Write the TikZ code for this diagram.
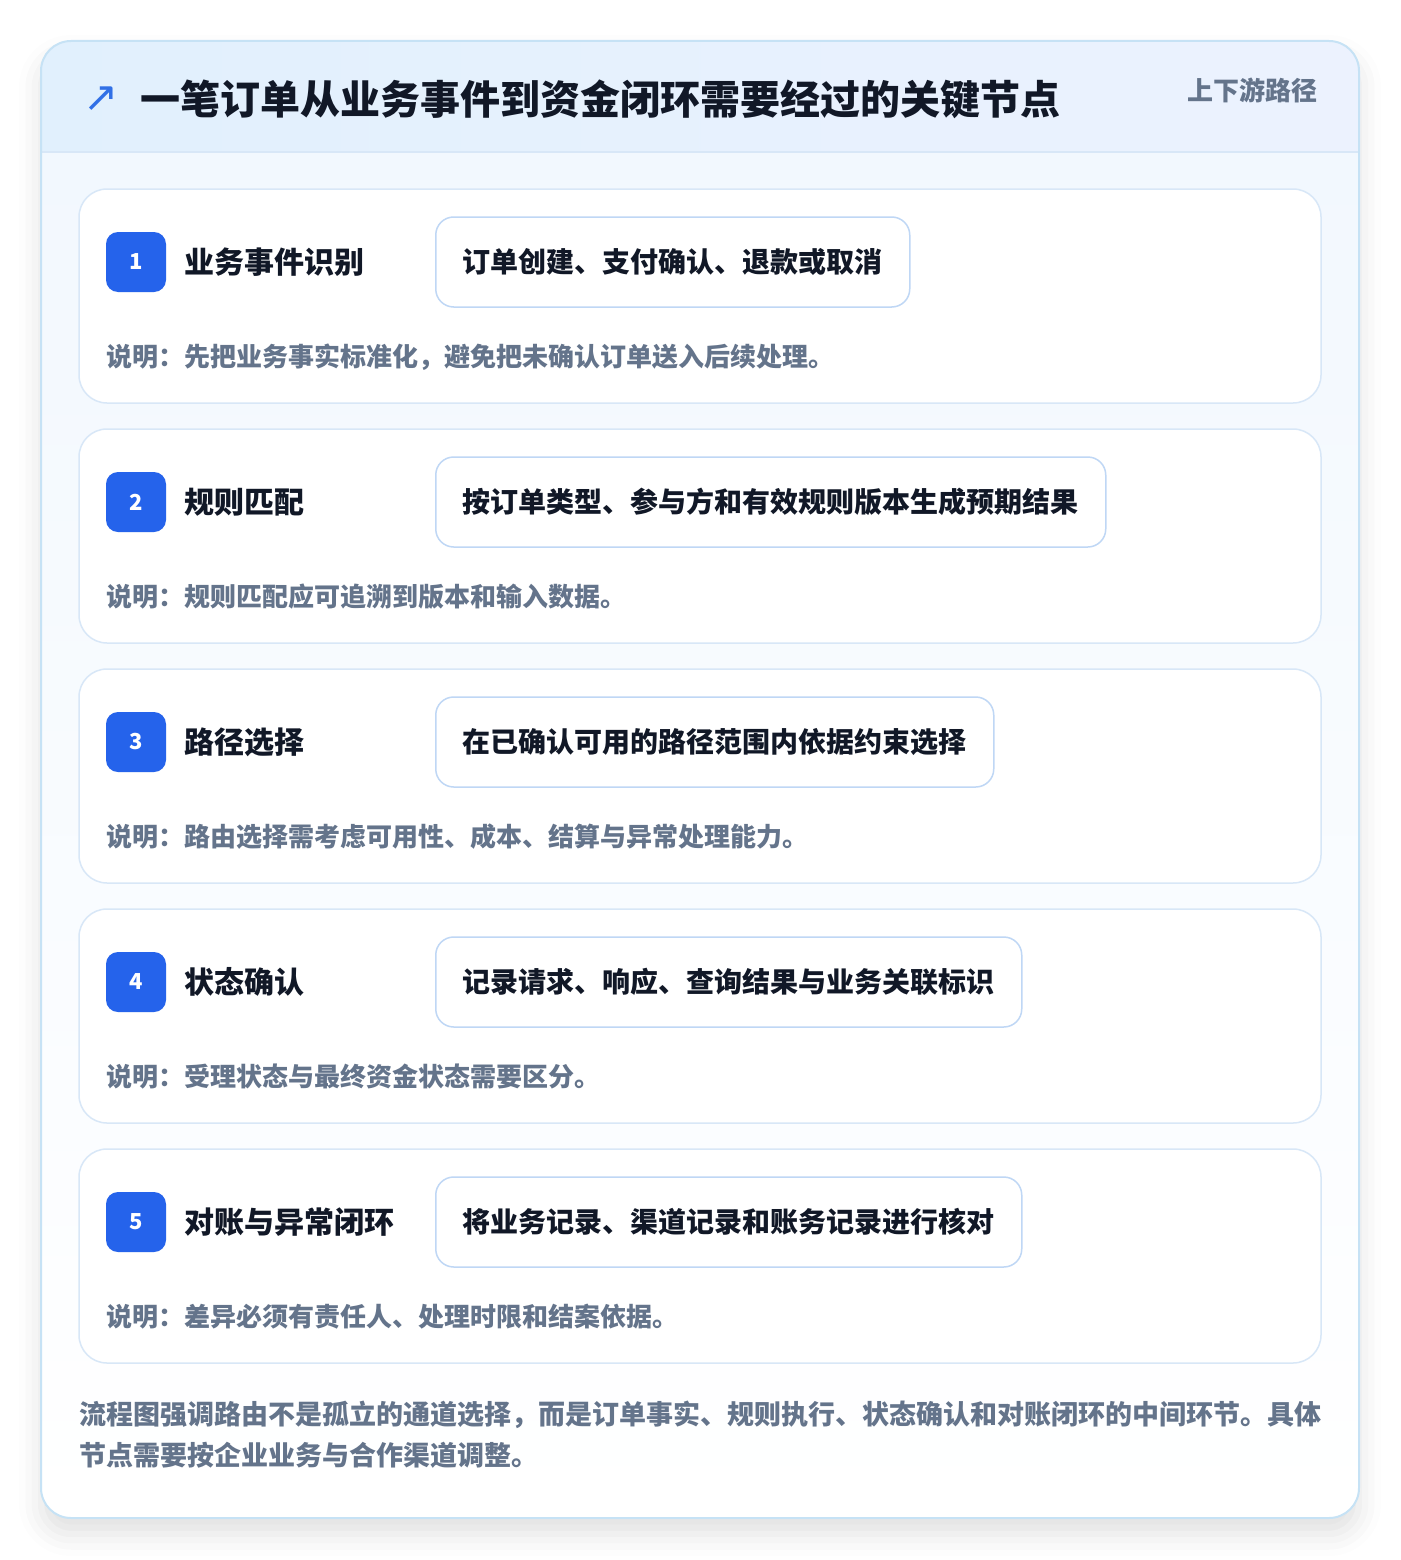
\documentclass[tikz,border=0pt]{standalone}
\usepackage{fontspec}
\setmainfont{Noto Sans CJK SC}
\newfontfamily\symfont{DejaVu Sans}
\usetikzlibrary{shadows.blur}

\definecolor{inkdark}{HTML}{111827}
\definecolor{inkgray}{HTML}{64748B}
\definecolor{badgeblue}{HTML}{2563EB}
\definecolor{iconblue}{HTML}{3170E6}
\definecolor{framelight}{HTML}{C6E2F5}
\definecolor{cardline}{HTML}{D8E7F7}
\definecolor{taskline}{HTML}{BFD7F5}
\definecolor{headleft}{HTML}{E1F0FD}
\definecolor{headright}{HTML}{ECF2FE}
\definecolor{bodytop}{HTML}{F2F8FE}

\tikzset{
  card/.style={draw=cardline, line width=1.5, fill=white, rounded corners=28,
    minimum width=1242, minimum height=214, inner sep=0},
  badge/.style={fill=badgeblue, rounded corners=12, minimum size=60, inner sep=0,
    text=white, font=\fontsize{22}{22}\selectfont\bfseries},
  steplabel/.style={anchor=west, inner sep=0, text=inkdark,
    font=\fontsize{30}{36}\selectfont\bfseries},
  taskbox/.style={anchor=west, draw=taskline, line width=1.5, fill=white,
    rounded corners=18, minimum height=90, inner xsep=27, inner ysep=0,
    text=inkdark, font=\fontsize{28}{34}\selectfont\bfseries},
  notetext/.style={anchor=west, inner sep=0, text=inkgray,
    font=\fontsize{26}{32}\selectfont\bfseries}
}

\begin{document}
\begin{tikzpicture}[x=1pt, y=-1pt]
  \useasboundingbox (0,0) rectangle (1400,1560);

  % Outer frame with its shadow
  \path[fill=white, rounded corners=30,
    blur shadow={shadow xshift=0pt, shadow yshift=-16pt, shadow blur radius=22pt, shadow opacity=12}]
    (41,41) rectangle (1359,1518);
  \begin{scope}
    \clip[rounded corners=30] (41,41) rectangle (1359,1518);
    \shade[left color=headleft, right color=headright] (41,41) rectangle (1359,152);
    \shade[top color=bodytop, bottom color=white] (41,152) rectangle (1359,1518);
    \draw[cardline, line width=1.5] (41,152) -- (1359,152);
  \end{scope}
  \draw[framelight, line width=2, rounded corners=30] (41,41) rectangle (1359,1518);

  % Header
  \node[text=iconblue, inner sep=0, font=\symfont\fontsize{42}{42}\selectfont] (icon) at (101,99) {↗};
  \node[anchor=west, inner sep=0, text=inkdark, font=\fontsize{40}{48}\selectfont\bfseries]
    (title) at (140,99) {一笔订单从业务事件到资金闭环需要经过的关键节点};
  \node[anchor=east, inner sep=0, text=inkgray, font=\fontsize{26}{32}\selectfont\bfseries]
    (meta) at (1318,90) {上下游路径};

  % Step 1
  \node[card] (card1) at (700,296) {};
  \node[badge] (badge1) at (136,262) {1};
  \node[steplabel] (label1) at (184,262) {业务事件识别};
  \node[taskbox] (task1) at (435,262) {订单创建、支付确认、退款或取消};
  \node[notetext] (note1) at (106,357) {说明：先把业务事实标准化，避免把未确认订单送入后续处理。};

  % Step 2
  \node[card] (card2) at (700,536) {};
  \node[badge] (badge2) at (136,502) {2};
  \node[steplabel] (label2) at (184,502) {规则匹配};
  \node[taskbox] (task2) at (435,502) {按订单类型、参与方和有效规则版本生成预期结果};
  \node[notetext] (note2) at (106,597) {说明：规则匹配应可追溯到版本和输入数据。};

  % Step 3
  \node[card] (card3) at (700,776) {};
  \node[badge] (badge3) at (136,742) {3};
  \node[steplabel] (label3) at (184,742) {路径选择};
  \node[taskbox] (task3) at (435,742) {在已确认可用的路径范围内依据约束选择};
  \node[notetext] (note3) at (106,837) {说明：路由选择需考虑可用性、成本、结算与异常处理能力。};

  % Step 4
  \node[card] (card4) at (700,1016) {};
  \node[badge] (badge4) at (136,982) {4};
  \node[steplabel] (label4) at (184,982) {状态确认};
  \node[taskbox] (task4) at (435,982) {记录请求、响应、查询结果与业务关联标识};
  \node[notetext] (note4) at (106,1077) {说明：受理状态与最终资金状态需要区分。};

  % Step 5
  \node[card] (card5) at (700,1256) {};
  \node[badge] (badge5) at (136,1222) {5};
  \node[steplabel] (label5) at (184,1222) {对账与异常闭环};
  \node[taskbox] (task5) at (435,1222) {将业务记录、渠道记录和账务记录进行核对};
  \node[notetext] (note5) at (106,1317) {说明：差异必须有责任人、处理时限和结案依据。};

  % Footer
  \node[anchor=west, inner sep=0, align=left, text=inkgray,
    font=\fontsize{27}{41}\selectfont\bfseries] (footer) at (79,1435)
    {流程图强调路由不是孤立的通道选择，而是订单事实、规则执行、状态确认和对账闭环的中间环节。具体\\
     节点需要按企业业务与合作渠道调整。};

\end{tikzpicture}
\end{document}
